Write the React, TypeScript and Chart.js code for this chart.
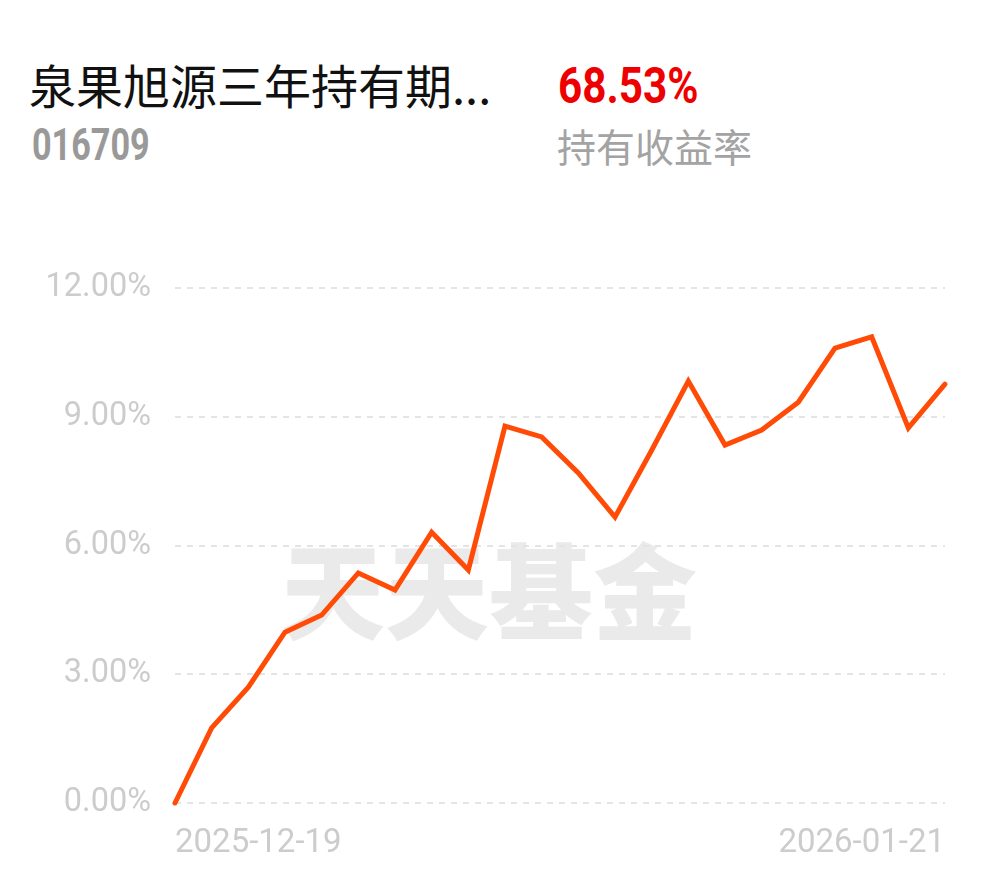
import React, { useEffect, useRef } from 'react';
import { Chart, registerables } from 'chart.js';

Chart.register(...registerables);

const dates = [
  '2025-12-19', '2025-12-22', '2025-12-23', '2025-12-24', '2025-12-25', '2025-12-26',
  '2025-12-29', '2025-12-30', '2025-12-31', '2026-01-05', '2026-01-06', '2026-01-07',
  '2026-01-08', '2026-01-09', '2026-01-12', '2026-01-13', '2026-01-14', '2026-01-15',
  '2026-01-16', '2026-01-19', '2026-01-20', '2026-01-21',
];

const returns = [
  0.0, 1.75, 2.7, 3.98, 4.38, 5.36, 4.96, 6.31, 5.43, 8.78, 8.53, 7.69,
  6.66, 8.22, 9.83, 8.34, 8.69, 9.34, 10.6, 10.86, 8.74, 9.76,
];

const yTicks = [0, 3, 6, 9, 12];

const fundName = '泉果旭源三年持有期...';
const fundCode = '016709';
const holdReturn = '68.53%';
const holdReturnLabel = '持有收益率';
const watermark = '天天基金';

export default function App() {
  const canvasRef = useRef<HTMLCanvasElement | null>(null);

  useEffect(() => {
    const canvas = canvasRef.current;
    if (!canvas) return;
    const chart = new Chart(canvas, {
      type: 'line',
      data: {
        labels: dates,
        datasets: [
          {
            data: returns,
            borderColor: '#ff4b05',
            borderWidth: 5,
            borderCapStyle: 'round',
            borderJoinStyle: 'miter',
            pointRadius: 0,
            tension: 0,
            fill: false,
            clip: false as any,
          },
        ],
      },
      options: {
        animation: false,
        responsive: false,
        maintainAspectRatio: false,
        layout: { padding: { top: 288, right: 45, left: 0, bottom: 0 } },
        plugins: {
          legend: { display: false },
          tooltip: { enabled: false },
        },
        scales: {
          x: {
            type: 'category',
            grid: { display: false, drawTicks: false },
            border: { display: false },
            afterFit: (scale: any) => {
              scale.height = 75;
            },
            ticks: {
              autoSkip: false,
              maxRotation: 0,
              minRotation: 0,
              align: 'inner',
              padding: 21,
              color: '#cccccc',
              font: { family: 'Roboto', size: 33 },
              callback: (_v: any, i: number) =>
                i === 0 || i === dates.length - 1 ? dates[i] : '',
            },
          },
          y: {
            min: yTicks[0],
            max: yTicks[yTicks.length - 1],
            afterFit: (scale: any) => {
              scale.width = 175;
            },
            afterBuildTicks: (scale: any) => {
              scale.ticks = yTicks.map((v) => ({ value: v }));
            },
            grid: { color: '#e4e4e4', lineWidth: 2, drawTicks: false },
            border: { display: false, dash: [6, 6] },
            ticks: {
              padding: 24,
              color: '#cccccc',
              font: { family: 'Roboto', size: 32.5 },
              callback: (v: any) => Number(v).toFixed(2) + '%',
            },
          },
        },
      },
    });
    return () => chart.destroy();
  }, []);

  return (
    <div
      style={{
        position: 'absolute',
        left: 0,
        top: 0,
        width: 990,
        height: 878,
        overflow: 'hidden',
        background: '#ffffff',
      }}
    >
      <div
        style={{
          position: 'absolute',
          left: 29,
          top: 60,
          fontFamily: '"Noto Sans CJK SC", sans-serif',
          fontSize: 47,
          lineHeight: '47px',
          color: '#111111',
          whiteSpace: 'nowrap',
        }}
      >
        {fundName}
      </div>
      <div
        style={{
          position: 'absolute',
          left: 32,
          top: 122,
          fontFamily: 'Roboto, sans-serif',
          fontWeight: 700,
          fontSize: 45,
          lineHeight: '45px',
          color: '#999999',
          whiteSpace: 'nowrap',
          transform: 'scaleX(0.76)',
          transformOrigin: 'left top',
        }}
      >
        {fundCode}
      </div>
      <div
        style={{
          position: 'absolute',
          left: 558,
          top: 61,
          fontFamily: 'Roboto, sans-serif',
          fontWeight: 700,
          fontSize: 50,
          lineHeight: '50px',
          color: '#ee0000',
          whiteSpace: 'nowrap',
          transform: 'scaleX(0.845)',
          transformOrigin: 'left top',
        }}
      >
        {holdReturn}
      </div>
      <div
        style={{
          position: 'absolute',
          left: 557,
          top: 126,
          fontFamily: '"Noto Sans CJK SC", sans-serif',
          fontSize: 39,
          lineHeight: '39px',
          color: '#a3a3a3',
          whiteSpace: 'nowrap',
        }}
      >
        {holdReturnLabel}
      </div>
      <div
        style={{
          position: 'absolute',
          left: 281,
          top: 535,
          fontFamily: '"Noto Sans CJK SC", sans-serif',
          fontWeight: 900,
          fontSize: 104,
          lineHeight: '104px',
          color: '#eaeaea',
          whiteSpace: 'nowrap',
        }}
      >
        {watermark}
      </div>
      <canvas
        ref={canvasRef}
        width={990}
        height={878}
        style={{ position: 'absolute', left: 0, top: 0, width: 990, height: 878 }}
      />
    </div>
  );
}
